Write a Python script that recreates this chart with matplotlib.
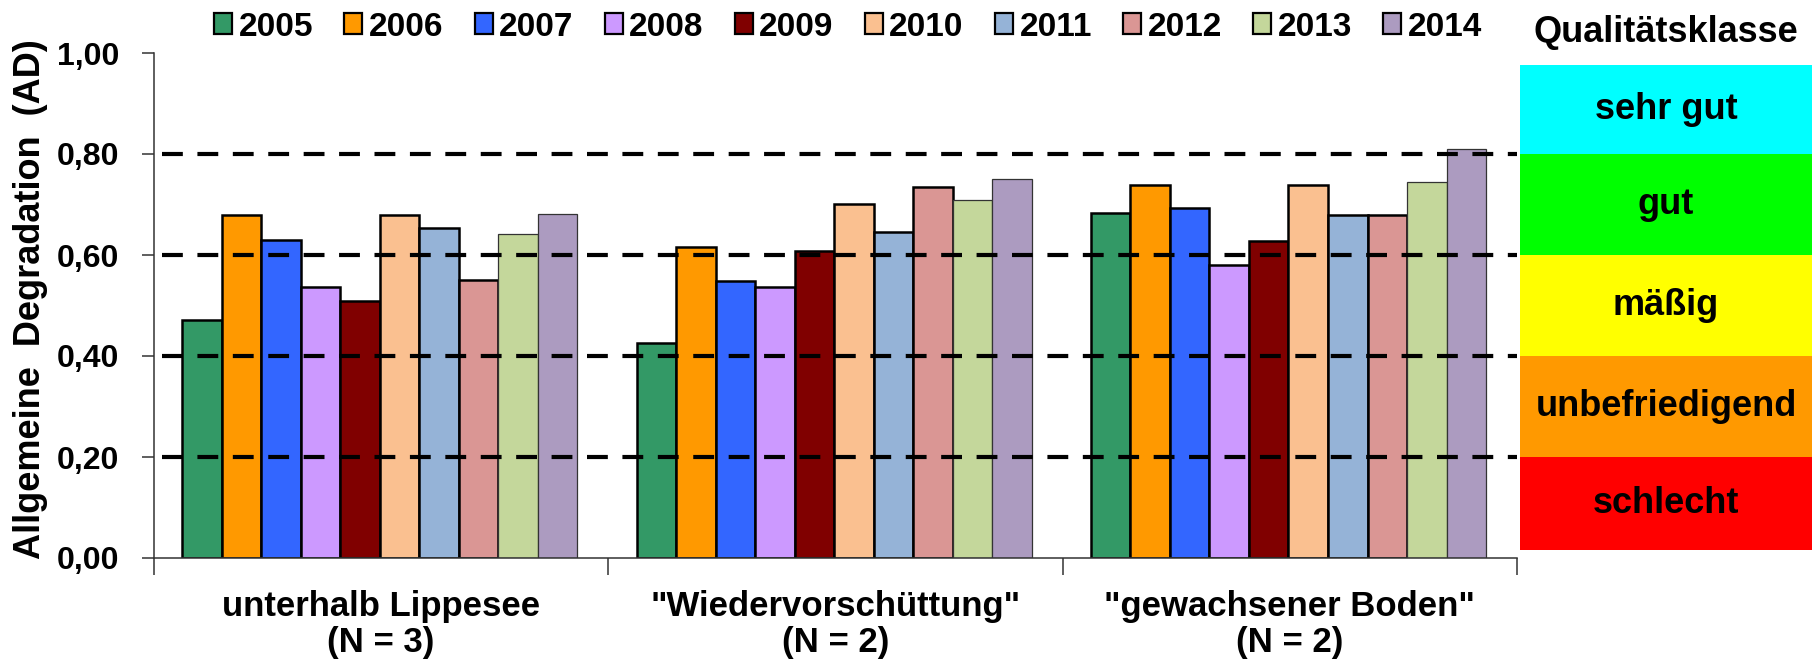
import matplotlib
matplotlib.use("Agg")
import matplotlib.pyplot as plt
from matplotlib.patches import Patch, Rectangle

# Allgemeine Degradation (AD) je Standort und Jahr
years = ['2005', '2006', '2007', '2008', '2009', '2010', '2011', '2012', '2013', '2014']
sites = ['unterhalb Lippesee\n(N = 3)', '"Wiedervorschüttung"\n(N = 2)', '"gewachsener Boden"\n(N = 2)']
ad_lippesee = [0.471, 0.680, 0.630, 0.537, 0.508, 0.680, 0.653, 0.550, 0.641, 0.681]
ad_wiedervor = [0.426, 0.616, 0.548, 0.536, 0.607, 0.701, 0.646, 0.735, 0.709, 0.750]
ad_boden = [0.683, 0.739, 0.694, 0.581, 0.628, 0.739, 0.679, 0.679, 0.745, 0.810]

year_colors = ['#339966', '#FF9900', '#3366FF', '#CC99FF', '#800000',
               '#FAC090', '#95B3D7', '#DA9694', '#C4D79B', '#AC9BC0']

classes = ['sehr gut', 'gut', 'mäßig', 'unbefriedigend', 'schlecht']
class_lo = [0.80, 0.60, 0.40, 0.20, 0.015]
class_hi = [0.976, 0.80, 0.60, 0.40, 0.20]
class_colors = ['#00FFFF', '#00FF00', '#FFFF00', '#FF9900', '#FF0000']

thresholds = [0.2, 0.4, 0.6, 0.8]
yticks = [0.0, 0.2, 0.4, 0.6, 0.8, 1.0]
ytick_labels = ['0,00', '0,20', '0,40', '0,60', '0,80', '1,00']

FONT = ['Liberation Sans', 'DejaVu Sans']

W, H = 1812, 664
fig = plt.figure(figsize=(W / 100, H / 100), dpi=100)
ax = fig.add_axes([154 / W, 106 / H, (1517 - 154) / W, (558 - 53) / H])

data = [ad_lippesee, ad_wiedervor, ad_boden]
bw = 0.087
start = 0.062
for j, year in enumerate(years):
    xs = [g + start + bw * (j + 0.5) for g in range(len(sites))]
    hs = [data[g][j] for g in range(len(sites))]
    if j < 8:
        ec, lw = 'black', 1.8
    else:
        ec, lw = '#333333', 0.9
    ax.bar(xs, hs, width=bw, color=year_colors[j], edgecolor=ec, linewidth=lw, zorder=2)

for t in thresholds:
    ax.axhline(t, xmin=0.006, xmax=1.0, color='black', linewidth=3.0,
               linestyle=(0, (5, 3.5)), zorder=3)

ax.set_xlim(0, 3)
ax.set_ylim(0, 1.0)
for s in ['top', 'right']:
    ax.spines[s].set_visible(False)
for s in ['left', 'bottom']:
    ax.spines[s].set_color('#333333')
    ax.spines[s].set_linewidth(1.1)

ax.set_yticks(yticks)
ax.set_yticklabels(ytick_labels, fontfamily=FONT, fontweight='bold', fontsize=23)
ax.tick_params(axis='y', direction='out', length=9, width=1.1, color='#333333', pad=16)

ax.set_xticks([0.5, 1.5, 2.5])
ax.set_xticklabels(sites, fontfamily=FONT, fontweight='bold', fontsize=25, linespacing=1.12)
ax.tick_params(axis='x', which='major', length=0, pad=23)
ax.set_xticks([0, 1, 2, 3], minor=True)
ax.tick_params(axis='x', which='minor', direction='out', length=12, width=1.1, color='#333333')

fig.text(31 / W, 1 - 299 / H, 'Allgemeine  Degradation  (AD)', rotation=90,
         ha='center', va='center', fontfamily=FONT, fontweight='bold', fontsize=26)

# Qualitaetsklassen rechts
ax2 = fig.add_axes([1520 / W, 106 / H, 292 / W, (558 - 53) / H])
ax2.set_xlim(0, 1)
ax2.set_ylim(0, 1.0)
ax2.axis('off')
for name, lo, hi, c in zip(classes, class_lo, class_hi, class_colors):
    ax2.add_patch(Rectangle((0, lo), 1, hi - lo, facecolor=c, edgecolor='none'))
    ax2.text(0.5, (lo + hi) / 2, name, ha='center', va='center',
             fontfamily=FONT, fontweight='bold', fontsize=26)

fig.text(1666 / W, 1 - 32 / H, 'Qualitätsklasse', ha='center', va='center',
         fontfamily=FONT, fontweight='bold', fontsize=26)

handles = [Patch(facecolor=c, edgecolor='black', linewidth=1.6) for c in year_colors]
fig.legend(handles, years, loc='center', bbox_to_anchor=(848 / W, 1 - 27 / H), ncol=10,
           frameon=False, prop={'family': FONT, 'weight': 'bold', 'size': 24},
           handlelength=0.54, handleheight=0.6, handletextpad=0.2, columnspacing=0.93,
           borderpad=0, borderaxespad=0)

fig.savefig('out.png', dpi=100)
